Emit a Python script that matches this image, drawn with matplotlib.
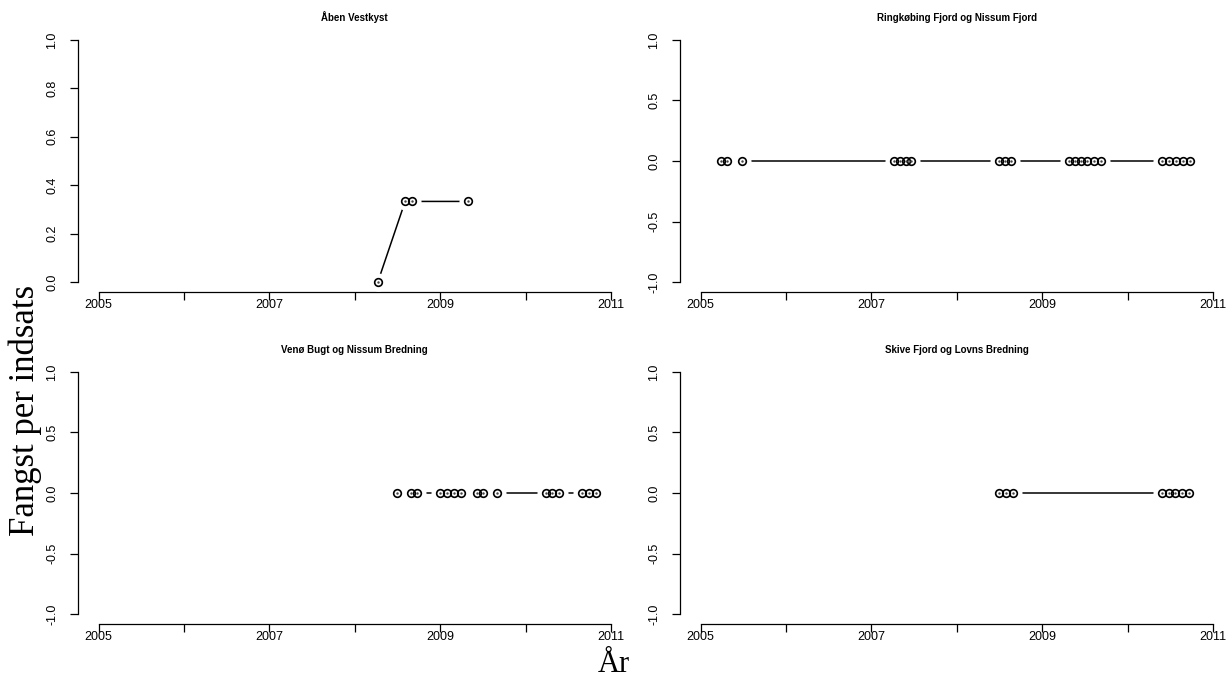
import numpy as np
import matplotlib
matplotlib.use('Agg')
import matplotlib.pyplot as plt

# data (decimal year, catch per effort)
titler = ['Åben Vestkyst', 'Ringkøbing Fjord og Nissum Fjord',
          'Venø Bugt og Nissum Bredning', 'Skive Fjord og Lovns Bredning']

aar_vestkyst = [2008.27, 2008.59, 2008.67, 2009.33]
fangst_vestkyst = [0.0, 0.333, 0.333, 0.333]

aar_ringk = [2005.24, 2005.31, 2005.48, 2007.26, 2007.33, 2007.40, 2007.47,
             2008.49, 2008.56, 2008.64, 2009.31, 2009.38, 2009.46, 2009.53,
             2009.61, 2009.69, 2010.40, 2010.48, 2010.57, 2010.65, 2010.73]
fangst_ringk = [0.0] * len(aar_ringk)

aar_vene = [2008.49, 2008.66, 2008.73, 2009.00, 2009.08, 2009.16, 2009.24,
            2009.43, 2009.50, 2009.67, 2010.24, 2010.31, 2010.39, 2010.66,
            2010.74, 2010.82]
fangst_vene = [0.0] * len(aar_vene)

aar_skive = [2008.50, 2008.58, 2008.66, 2010.40, 2010.48, 2010.56, 2010.64, 2010.72]
fangst_skive = [0.0] * len(aar_skive)

xticks = [2005, 2006, 2007, 2008, 2009, 2010, 2011]
xlabels = ['2005', '', '2007', '', '2009', '', '2011']
yticks_top = [0.0, 0.2, 0.4, 0.6, 0.8, 1.0]
yticks_sym = [-1.0, -0.5, 0.0, 0.5, 1.0]

W, H = 1229, 693
fig = plt.figure(figsize=(W / 100, H / 100), dpi=100)

def rect(l, t, r, b):
    return [l / W, 1 - b / H, (r - l) / W, (b - t) / H]

rects = [rect(78, 30.3, 631.5, 291.7), rect(680, 30.3, 1233.5, 291.7),
         rect(78, 362.3, 631.5, 623.7), rect(680, 362.3, 1233.5, 623.7)]
serier = [(aar_vestkyst, fangst_vestkyst, yticks_top),
          (aar_ringk, fangst_ringk, yticks_sym),
          (aar_vene, fangst_vene, yticks_sym),
          (aar_skive, fangst_skive, yticks_sym)]

for i, (x, y, yt) in enumerate(serier):
    ax = fig.add_axes(rects[i])
    # R type="b": line with gaps round the points
    ax.plot(x, y, color='black', lw=1.1, zorder=2)
    ax.plot(x, y, 'o', ms=13, mfc='white', mec='none', zorder=3)
    ax.plot(x, y, 'o', ms=5.5, mfc='none', mec='black', mew=1.2, zorder=4)
    ax.plot(x, y, '.', ms=1.5, color='#444444', zorder=5)
    ax.set_xlim(2004.76, 2011.24)
    ext = (yt[-1] - yt[0]) * 0.04
    ax.set_ylim(yt[0] - ext, yt[-1] + ext)
    ax.set_xticks(xticks)
    ax.set_xticklabels(xlabels, fontsize=9, family='Liberation Sans')
    ax.set_yticks(yt)
    ax.set_yticklabels(['%.1f' % v for v in yt], fontsize=9, family='Liberation Sans',
                       rotation=90, va='center')
    ax.tick_params(axis='x', length=5.5, width=0.9, pad=0)
    ax.tick_params(axis='y', length=6, width=0.9, pad=8)
    for s in ['top', 'right']:
        ax.spines[s].set_visible(False)
    ax.spines['left'].set_bounds(yt[0], yt[-1])
    ax.spines['bottom'].set_bounds(2005, 2011)
    ax.spines['left'].set_linewidth(0.9)
    ax.spines['bottom'].set_linewidth(0.9)
    ax.set_title(titler[i], fontsize=7, fontweight='bold', family='Liberation Sans', pad=7)

fig.text(25 / W, 1 - 410 / H, 'Fangst per indsats', rotation=90, ha='center', va='center',
         fontsize=25, family='Liberation Serif')
fig.text(614 / W, 1 - 664 / H, 'År', ha='center', va='center',
         fontsize=22, family='Liberation Serif')

fig.savefig('out.png', dpi=100)
